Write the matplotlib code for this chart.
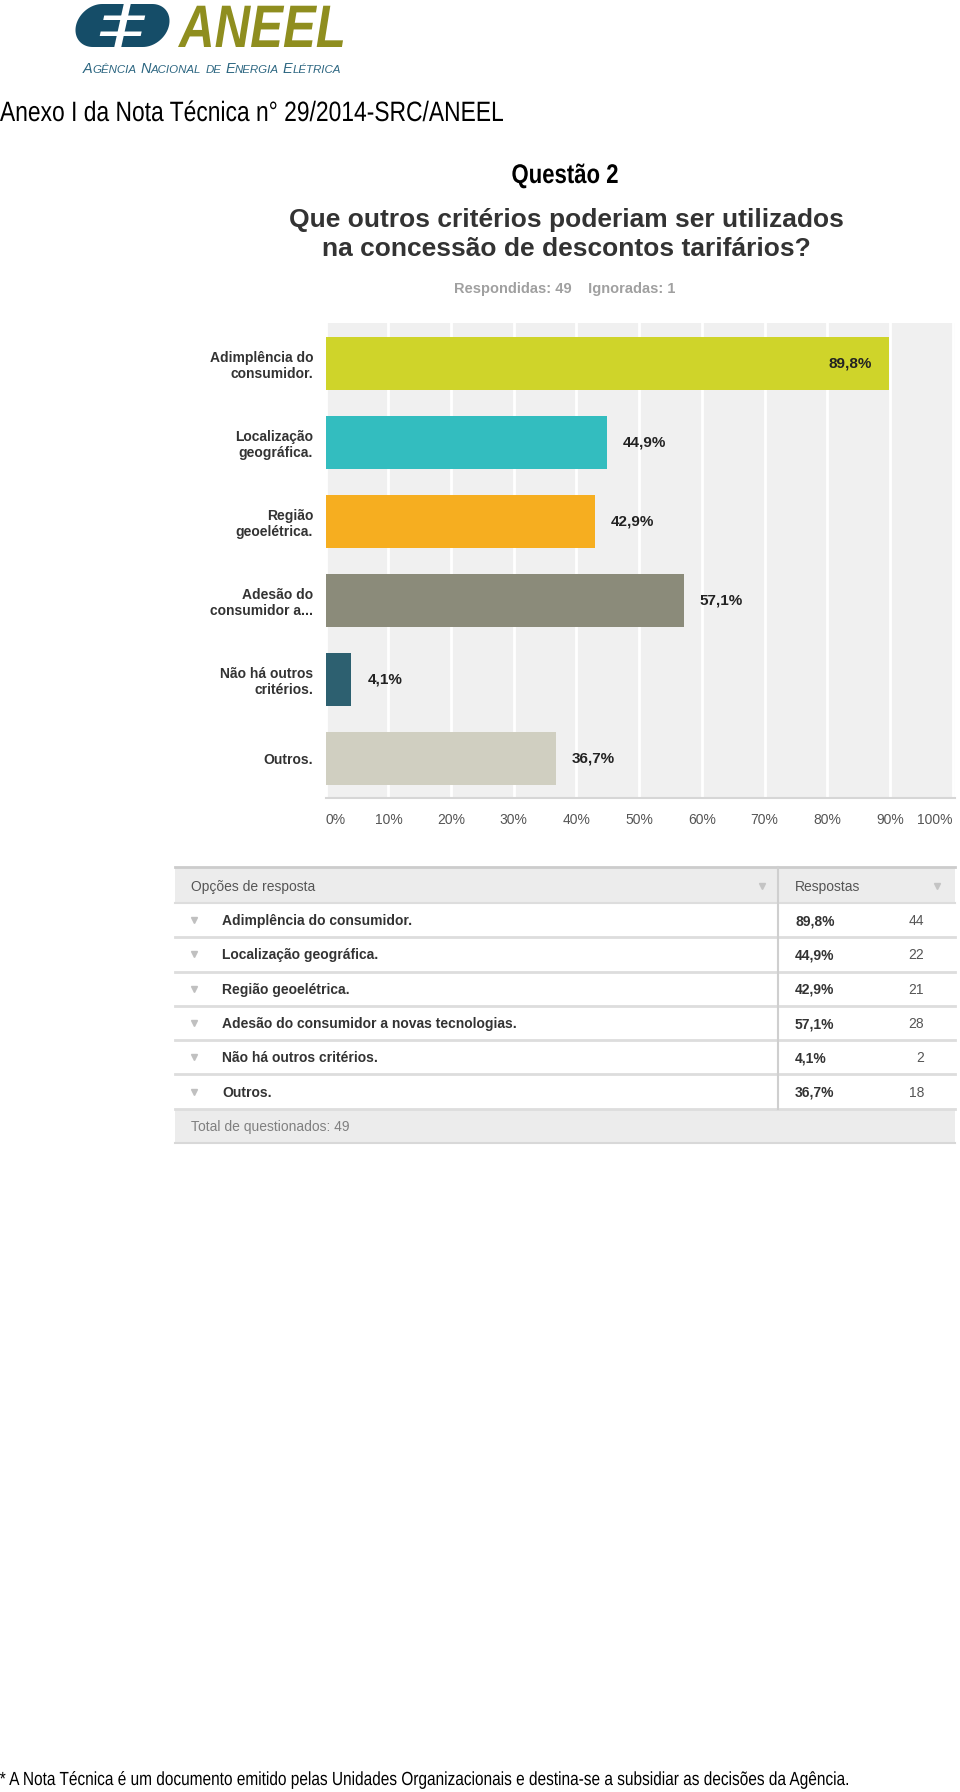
import numpy as np
import matplotlib
matplotlib.use('Agg')
import matplotlib.pyplot as plt
from matplotlib.patches import Rectangle, Polygon, PathPatch
from matplotlib.textpath import TextPath
from matplotlib.font_manager import FontProperties
from matplotlib.transforms import Affine2D

# dados da questão 2
categories = ['Adimplência do\nconsumidor.', 'Localização\ngeográfica.', 'Região\ngeoelétrica.',
              'Adesão do\nconsumidor a...', 'Não há outros\ncritérios.', 'Outros.']
options = ['Adimplência do consumidor.', 'Localização geográfica.', 'Região geoelétrica.',
           'Adesão do consumidor a novas tecnologias.', 'Não há outros critérios.', 'Outros.']
percent = [89.8, 44.9, 42.9, 57.1, 4.1, 36.7]
counts = [44, 22, 21, 28, 2, 18]
colors = ['#cfd42a', '#33bdbf', '#f6ae20', '#8b8b7a', '#2d6070', '#d0cfc1']
xticks = [0, 10, 20, 30, 40, 50, 60, 70, 80, 90, 100]
answered = 49
ignored = 1

SANS = 'Liberation Sans'


def pct(v):
    return f'{v:.1f}'.replace('.', ',') + '%'


fig = plt.figure(figsize=(9.6, 17.92), dpi=100)
fig.patch.set_facecolor('white')
page = fig.add_axes([0, 0, 1, 1])
page.set_xlim(0, 960)
page.set_ylim(1792, 0)
page.axis('off')
renderer = fig.canvas.get_renderer()


def path_text(x, y, s, em, sx=0.82, ha='left', width=None, color='black', **fp):
    # texto condensado (fonte estreita) desenhado como caminho
    prop = FontProperties(family=SANS, **fp)
    tp = TextPath((0, 0), s, size=em, prop=prop)
    ext = tp.get_extents()
    if width is not None:
        sx = width / ext.width
    w = ext.width * sx
    if ha == 'center':
        x0 = x - w / 2 - ext.x0 * sx
    else:
        x0 = x - ext.x0 * sx
    tr = Affine2D().scale(sx, -1).translate(x0, y)
    page.add_patch(PathPatch(tr.transform_path(tp), fc=color, ec='none', lw=0))


# --- logotipo ANEEL ---
def skew(pts, k=0.22, ym=25.5):
    return [(x + (ym - yy) * k, yy) for x, yy in pts]


tt = np.linspace(0, np.pi, 40)
r = 21.5
left_e = [(119, 4)] + list(zip(97.5 - r * np.sin(tt), 25.5 - r * np.cos(tt))) + [(119, 47)]
right_e = [(126, 4)] + list(zip(147.5 + r * np.sin(tt), 25.5 - r * np.cos(tt))) + [(126, 47)]
blue = '#154d68'
page.add_patch(Polygon(skew(left_e), closed=True, fc=blue, ec='none'))
page.add_patch(Polygon(skew(right_e), closed=True, fc=blue, ec='none'))
for y0 in (15.5, 31.5):
    for x0, x1 in ((102, 120), (125, 143)):
        page.add_patch(Polygon(skew([(x0, y0), (x1, y0), (x1, y0 + 4.5), (x0, y0 + 4.5)]),
                               closed=True, fc='white', ec='none'))
path_text(178, 47, 'ANEEL', 60, width=165, color='#8f8e1f', weight='bold', style='italic')

sub_runs = [('A', 'GÊNCIA'), ('N', 'ACIONAL'), ('', 'DE'), ('E', 'NERGIA'), ('E', 'LÉTRICA')]


def draw_sub(scale):
    x = 83
    arts = []
    for big, small in sub_runs:
        for txt, size in ((big, 12), (small, 9.5)):
            if not txt:
                continue
            a = page.text(x, 73, txt, fontfamily=SANS, fontsize=size * scale, fontstyle='italic',
                          color='#2c6681', va='baseline', ha='left')
            x += a.get_window_extent(renderer).width
            arts.append(a)
        x += 4.5 * scale
    return x - 4.5 * scale - 83, arts


w, arts = draw_sub(1.0)
for a in arts:
    a.remove()
draw_sub(259 / w)

# --- cabeçalho ---
path_text(0, 121, 'Anexo I da Nota Técnica n° 29/2014-SRC/ANEEL', 28, width=503)
path_text(565, 183, 'Questão 2', 27, sx=0.82, ha='center', weight='bold')
page.text(566, 226.5, 'Que outros critérios poderiam ser utilizados', fontfamily=SANS,
          fontsize=19, fontweight='bold', color='#333333', va='baseline', ha='center')
page.text(566, 256.5, 'na concessão de descontos tarifários?', fontfamily=SANS,
          fontsize=19, fontweight='bold', color='#333333', va='baseline', ha='center')
page.text(565, 293, f'Respondidas: {answered}    Ignoradas: {ignored}', fontfamily=SANS,
          fontsize=10.5, fontweight='bold', color='#a0a0a0', va='baseline', ha='center')

# --- gráfico de barras ---
ax = fig.add_axes([325.7 / 960, 1 - 798 / 1792, 629.5 / 960, 475 / 1792])
ax.set_facecolor('#f0f0f0')
y = np.arange(len(percent))
ax.barh(y, percent, height=0.665, color=colors, zorder=3)
ax.set_xlim(0, 100.4)
ax.set_ylim(5.5, -0.513)
ax.set_xticks(xticks)
ax.set_xticklabels([f'{v}%' for v in xticks], fontfamily=SANS, fontsize=10, color='#555555')
ax.tick_params(axis='x', length=0, pad=11)
ax.set_yticks(y)
ax.set_yticklabels(categories, fontfamily=SANS, fontsize=10, fontweight='bold', color='#333333')
ax.tick_params(axis='y', length=0, pad=9)
xl = ax.get_xticklabels()
xl[0].set_ha('left')
xl[-1].set_ha('right')
ax.grid(axis='x', color='white', lw=2, zorder=0)
ax.set_axisbelow(True)
for s in ['top', 'right', 'left']:
    ax.spines[s].set_visible(False)
ax.spines['bottom'].set_color('#d6d6d6')
ax.spines['bottom'].set_linewidth(1.5)
for i, v in enumerate(percent):
    if v > 80:
        ax.annotate(pct(v), (v, i), xytext=(-12, 0), textcoords='offset points', ha='right',
                    va='center', fontfamily=SANS, fontsize=11, fontweight='bold', color='#222222')
    else:
        ax.annotate(pct(v), (v, i), xytext=(11.5, 0), textcoords='offset points', ha='left',
                    va='center', fontfamily=SANS, fontsize=11, fontweight='bold', color='#222222')

# --- tabela de respostas ---
tx0, tx1, tcol = 175, 955, 778
head_top, head_bot = 867, 903
row_h = 34.3
n = len(options)
foot_top = head_bot + n * row_h
foot_bot = foot_top + 34.3
page.add_patch(Rectangle((tx0, head_top), tx1 - tx0, head_bot - head_top, fc='#ececec', ec='none'))
page.plot([tx0, tx1], [head_top, head_top], color='#cccccc', lw=2)
page.plot([tx0, tx1], [head_bot, head_bot], color='#dddddd', lw=1.5)
page.text(191, 891, 'Opções de resposta', fontfamily=SANS, fontsize=10, color='#555555',
          va='baseline', ha='left')
page.text(795, 891, 'Respostas', fontfamily=SANS, fontsize=10, color='#555555',
          va='baseline', ha='left')
page.plot([762, 937], [886, 886], ls='none', marker='v', ms=4, color='#c4c4c4')
for i, (opt, v, c) in enumerate(zip(options, percent, counts)):
    top = head_bot + i * row_h
    cy = top + row_h / 2
    page.plot(194, cy, marker='v', ms=4, color='#c0c0c0')
    page.text(222, cy + 5, opt, fontfamily=SANS, fontsize=10, fontweight='bold',
              color='#333333', va='baseline', ha='left')
    page.text(795, cy + 5, pct(v), fontfamily=SANS, fontsize=10, fontweight='bold',
              color='#333333', va='baseline', ha='left')
    page.text(924, cy + 5, str(c), fontfamily=SANS, fontsize=10, color='#555555',
              va='baseline', ha='right')
    page.plot([tx0, tx1], [top + row_h, top + row_h], color='#dddddd', lw=2)
page.plot([tcol, tcol], [head_top, foot_top], color='#cfcfcf', lw=1.5)
page.add_patch(Rectangle((tx0, foot_top), tx1 - tx0, foot_bot - foot_top, fc='#ececec', ec='none'))
page.plot([tx0, tx1], [foot_bot, foot_bot], color='#d8d8d8', lw=1.5)
page.text(191, foot_top + row_h / 2 + 5, f'Total de questionados: {answered}', fontfamily=SANS,
          fontsize=10, color='#808080', va='baseline', ha='left')

# --- rodapé ---
path_text(0, 1785, '* A Nota Técnica é um documento emitido pelas Unidades Organizacionais '
          'e destina-se a subsidiar as decisões da Agência.', 19, width=848)

fig.savefig('out.png', dpi=100)
